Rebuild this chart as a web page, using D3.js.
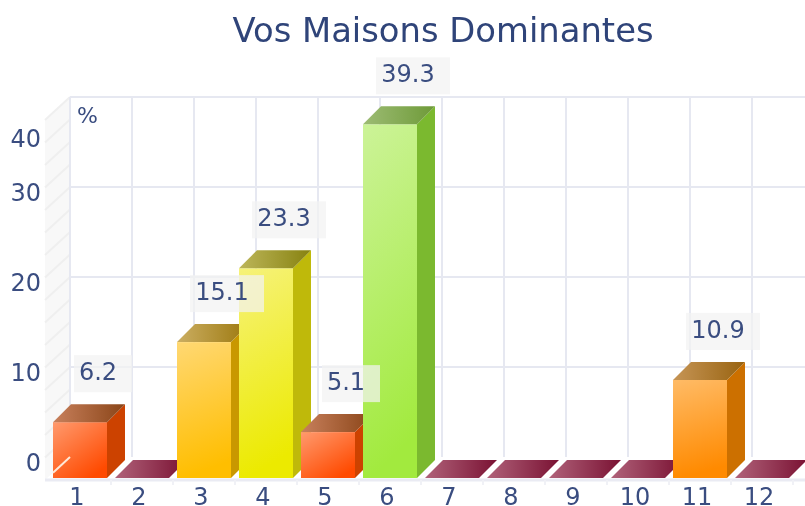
<!DOCTYPE html>
<html>
<head>
<meta charset="utf-8">
<script src="https://cdn.jsdelivr.net/npm/d3@7"></script>
<style>
html, body { margin: 0; padding: 0; background: #fff; overflow: hidden; }
svg { display: block; filter: blur(0.6px); }
text { font-family: "DejaVu Sans", sans-serif; fill: #3a4d80; }
</style>
</head>
<body>
<div id="chart"></div>
<script>
var houses = ["1","2","3","4","5","6","7","8","9","10","11","12"];
var percents = [6.2,0,15.1,23.3,5.1,39.3,0,0,0,0,10.9,0];
var yTicks = [0,10,20,30,40];
var wallTicks = [0,2.5,5,7.5,10,12.5,15,17.5,20,22.5,25,27.5,30,32.5,35,37.5,40];

// front, front end, side, top start, top end
var palette = {
    zero:   ["#b0627a","#7a1233","#7a1233","#b0627a","#7a1233"],
    red:    ["#ff9a6e","#ff4a00","#cc4200","#c8805c","#8a4518"],
    amber:  ["#ffd873","#ffbe00","#c99800","#cbae62","#9c780e"],
    yellow: ["#f6f27a","#ecea00","#bfb90a","#bdb65a","#878210"],
    orange: ["#ffbb66","#ff8a00","#cc7000","#c69556","#986310"],
    green:  ["#ccf398","#a2ea3e","#7bb92f","#9dbc74","#6e9a38"]
};
var barColors = ["red","zero","amber","yellow","red","green","zero","zero","zero","zero","orange","zero"];

var width = 805, height = 506;
var depthX = 18, depthY = 18;
var wallX = 25, wallY = 23;

var svg = d3.select("#chart").append("svg")
    .attr("width",width).attr("height",height);

var x = d3.scaleBand().domain(houses).range([49,793]).paddingInner(8/62).paddingOuter(4/62);
var y = d3.scaleLinear().domain([0,40]).range([478,118]);
var yBack = d3.scaleLinear().domain([0,40]).range([457,97]);
var left = 45, floorY = 480;
var bw = x.bandwidth();

var defs = svg.append("defs");
houses.forEach(function(h,i){
    var c = palette[barColors[i]];
    var g = defs.append("linearGradient").attr("id","front"+i)
        .attr("x1","0").attr("y1","0").attr("x2",barColors[i]=="red" ? "0.7":"0.15").attr("y2","1");
    g.append("stop").attr("offset","0").attr("stop-color",c[0]);
    g.append("stop").attr("offset","1").attr("stop-color",c[1]);
    var t = defs.append("linearGradient").attr("id","top"+i);
    t.append("stop").attr("offset","0").attr("stop-color",c[3]);
    t.append("stop").attr("offset","1").attr("stop-color",c[4]);
});

svg.append("text").attr("x",443).attr("y",42)
    .attr("text-anchor","middle").attr("font-size",33.8).style("fill","#2f4479")
    .text("Vos Maisons Dominantes");

// left wall
var wall = svg.append("g");
wall.append("path")
    .attr("d","M"+left+","+(yBack(40)+wallY)+"L"+(left+wallX)+","+yBack(40)
        +"L"+(left+wallX)+","+yBack(0)+"L"+left+","+floorY+"Z")
    .attr("fill","#f8f8f8");
wall.selectAll("line.diag").data(wallTicks.filter(function(d){return d>0})).enter().append("line")
    .attr("x1",left).attr("x2",left+wallX)
    .attr("y1",function(d){return yBack(d)+wallY}).attr("y2",function(d){return yBack(d)})
    .attr("stroke","#efefef").attr("stroke-width",2);

// back grid
var grid = svg.append("g").attr("stroke","#e6e8f1").attr("stroke-width",2);
grid.selectAll("line.h").data(yTicks.filter(function(d){return d>0})).enter().append("line")
    .attr("x1",left+wallX).attr("x2",width)
    .attr("y1",function(d){return yBack(d)}).attr("y2",function(d){return yBack(d)});
grid.selectAll("line.v").data(houses.concat(["end"])).enter().append("line")
    .attr("x1",function(d,i){return left+wallX+62*i}).attr("x2",function(d,i){return left+wallX+62*i})
    .attr("y1",yBack(40)).attr("y2",yBack(0));

// floor edge and little ticks
svg.append("line").attr("x1",left).attr("x2",width).attr("y1",floorY).attr("y2",floorY)
    .attr("stroke","#eaebf3").attr("stroke-width",3);
svg.selectAll("line.tick").data(houses).enter().append("line")
    .attr("x1",function(d){return x(d)+bw+4}).attr("x2",function(d){return x(d)+bw+4})
    .attr("y1",floorY).attr("y2",floorY+5)
    .attr("stroke","#f0f1f6").attr("stroke-width",2);

// bars
var bars = svg.selectAll("g.bar").data(houses).enter().append("g").attr("class","bar");
bars.each(function(h,i){
    var g = d3.select(this), v = percents[i];
    var x0 = x(h), x1 = x0+bw, y0 = y(0), yt = y(v);
    if (v > 0){
        g.append("path").attr("fill",palette[barColors[i]][2])
            .attr("d","M"+x1+","+y0+"L"+(x1+depthX)+","+(y0-depthY)+"L"+(x1+depthX)+","+(yt-depthY)+"L"+x1+","+yt+"Z");
        g.append("rect").attr("x",x0).attr("y",yt).attr("width",bw).attr("height",y0-yt)
            .attr("fill","url(#front"+i+")");
    }
    g.append("path").attr("fill","url(#top"+i+")")
        .attr("d","M"+x0+","+yt+"L"+(x0+depthX)+","+(yt-depthY)+"L"+(x1+depthX)+","+(yt-depthY)+"L"+x1+","+yt+"Z");
});

// wall zero line shows through the first bar
svg.append("line")
    .attr("x1",x("1")).attr("x2",left+wallX)
    .attr("y1",floorY-(x("1")-left)*wallY/wallX).attr("y2",yBack(0))
    .attr("stroke","#ffe9d8").attr("stroke-width",2);

// value labels
var labels = svg.selectAll("g.val").data(houses.filter(function(h,i){return percents[i]>0})).enter()
    .append("g").attr("class","val");
labels.each(function(h){
    var i = houses.indexOf(h), v = percents[i];
    var g = d3.select(this), cx = x(h)+bw/2+depthX, by = y(v)-depthY-49;
    var t = v.toFixed(1), w = t.length==3 ? 58 : 74;
    g.append("rect").attr("x",cx+5-w/2).attr("y",by).attr("height",37).attr("width",w)
        .attr("fill","#f3f3f3").attr("fill-opacity",0.72);
    g.append("text").attr("x",cx).attr("y",by+25).attr("text-anchor","middle").attr("font-size",24).text(t);
});

// axis labels
svg.selectAll("text.xl").data(houses).enter().append("text").attr("class","xl")
    .attr("x",function(d){return x(d)+bw/2-3}).attr("y",505)
    .attr("text-anchor","middle").attr("font-size",24)
    .text(function(d){return d});
svg.selectAll("text.yl").data(yTicks).enter().append("text").attr("class","yl")
    .attr("x",41).attr("text-anchor","end").attr("font-size",24)
    .attr("y",function(d){return Math.max(yBack(d)+14,147)})
    .text(function(d){return d});
svg.append("text").attr("x",77).attr("y",123).attr("font-size",22).text("%");
</script>
</body>
</html>
